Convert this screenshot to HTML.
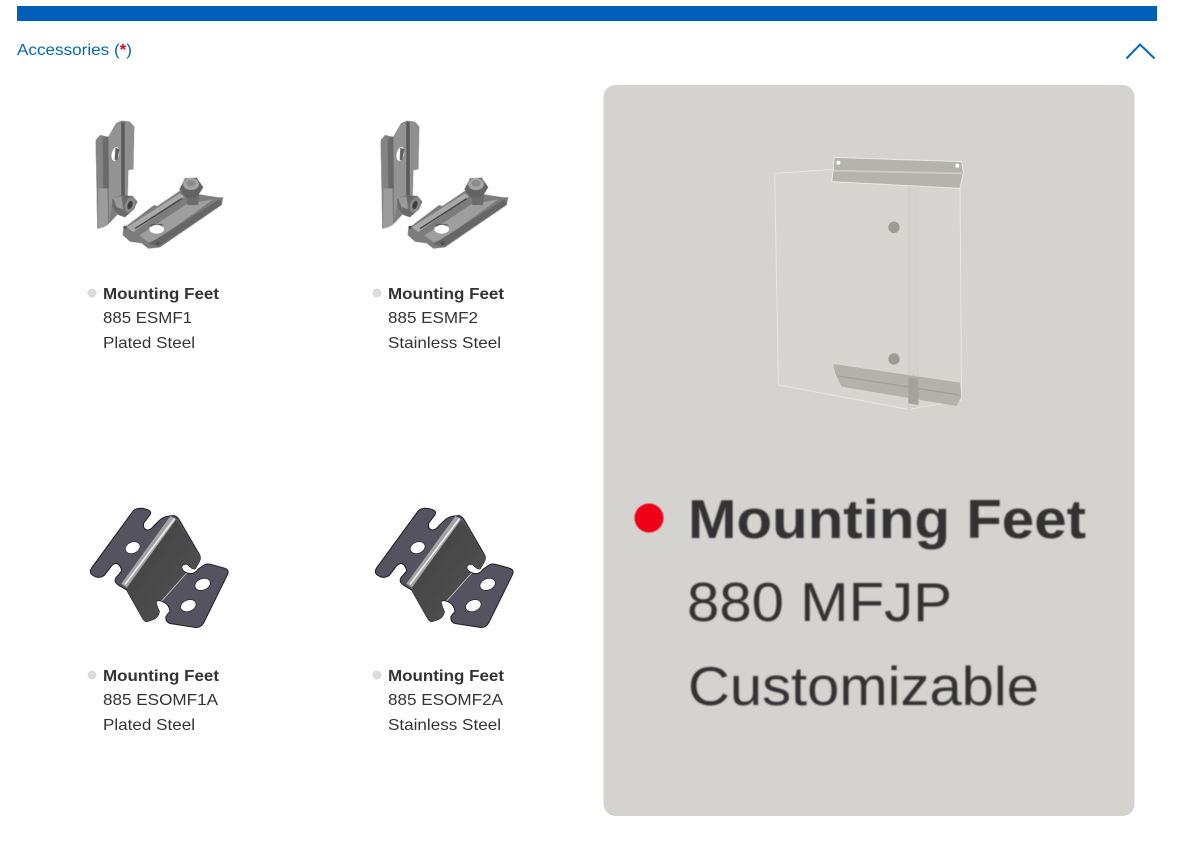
<!DOCTYPE html>
<html><head><meta charset="utf-8"><style>
html,body{margin:0;padding:0;background:#fff}
body{width:1199px;height:849px;overflow:hidden;position:relative}
svg{position:absolute;left:0;top:0}
text{font-family:"Liberation Sans",sans-serif;fill:#333;font-size:16px}
.b{font-weight:bold}
</style></head><body>
<svg width="1199" height="849" viewBox="0 0 1199 849" xmlns="http://www.w3.org/2000/svg">
<defs>
<filter id="bs" x="-5%" y="-5%" width="110%" height="110%"><feGaussianBlur stdDeviation="0.5"/></filter>
<filter id="bm" x="-5%" y="-5%" width="110%" height="110%"><feGaussianBlur stdDeviation="0.8"/></filter>
<linearGradient id="g2" x1="0" y1="0" x2="1" y2="1"><stop offset="0" stop-color="#3d3d3d"/><stop offset="1" stop-color="#565656"/></linearGradient>
<g id="f1" filter="url(#bs)">
 <path d="M108 40L125 32L150 35L163 50L160 178L145 180L143 262L125 300L88 340L70 352L52 356L47 90L60 75L85 80Z" fill="#7d7d7d"/>
 <path d="M47 90L60 76L68 88L70 350L52 356Z" fill="#848484"/>
 <path d="M55 235L82 235L84 345L68 352L55 355Z" fill="#9c9c9c"/>
 <path d="M68 88L85 80L88 235L70 235Z" fill="#6b6b6b"/>
 <path d="M85 80L110 42L124 38L124 262L98 268L88 340Z" fill="#939393"/>
 <path d="M124 38L134 36L134 258L124 262Z" fill="#585858"/>
 <path d="M134 36L150 35L163 50L160 178L145 180L143 258L134 258Z" fill="#8f8f8f"/>
 <ellipse cx="106" cy="132" rx="11" ry="21" fill="#fff" transform="rotate(12 106 132)"/>
 <path d="M106 113L118 118L112 150L104 150Z" fill="#5d5d5d"/>
 <path d="M97 268L125 255L158 258L172 275L162 298L135 322L115 315L97 290Z" fill="#6b6b6b"/>
 <path d="M100 266L124 258L130 298L110 292Z" fill="#9a9a9a"/>
 <ellipse cx="150" cy="285" rx="15" ry="24" fill="#888" transform="rotate(20 150 285)"/>
 <ellipse cx="150" cy="285" rx="7" ry="13" fill="#3c3c3c" transform="rotate(20 150 285)"/>
 <path d="M130 355L222 285L232 288L300 242L370 255L415 262L430 262L425 285L240 412L205 416L185 400L150 395L128 375Z" fill="#7c7c7c"/>
 <path d="M140 352L300 250L312 260L160 366Z" fill="#a9a9a9"/>
 <path d="M165 356L305 266" stroke="#3f3f3f" stroke-width="4" fill="none"/>
 <path d="M178 376L320 282L400 268L238 385L205 397Z" fill="#9e9e9e"/>
 <path d="M205 402L418 268L426 282L236 410Z" fill="#666"/>
 <ellipse cx="230" cy="357" rx="22" ry="14" fill="#fff"/>
 <path d="M210 352Q230 338 250 350L245 342L215 342Z" fill="#4f4f4f"/>
 <circle cx="135" cy="352" r="5" fill="#555"/><circle cx="233" cy="400" r="6" fill="#555"/>
 <path d="M320 250L357 250L354 285L322 285Z" fill="#6c6c6c"/>
 <path d="M298 238L315 205L350 203L370 232L352 260L318 263Z" fill="#646464"/>
 <ellipse cx="333" cy="222" rx="24" ry="18" fill="#a6a6a6"/>
 <ellipse cx="333" cy="220" rx="14" ry="10" fill="#8c8c8c"/>
</g>
<g id="f2" filter="url(#bs)">
 <path d="M160 47Q175 34 203 44Q218 50 208 62L192 83Q186 98 200 105Q212 106 222 92L243 72Q258 62 282 62Q292 65 298 75L358 178Q365 190 355 205L345 222Q335 222 325 210Q312 204 305 215Q306 232 330 236Q345 237 355 222L372 210Q380 205 392 208L435 220Q448 225 443 238L372 382Q362 400 345 397L272 386Q255 382 258 365Q262 357 270 350Q268 328 248 320Q232 312 228 322Q232 338 238 350Q235 368 218 374L200 380Q193 380 188 370L140 285L118 272Q100 262 108 248L125 228Q122 208 108 205Q95 207 88 222L72 242Q55 252 40 242Q26 234 34 220Z" fill="#55535e" stroke="#1f1f24" stroke-width="3" stroke-linejoin="round"/>
 <path d="M285 70L358 178Q365 190 355 205L345 222Q335 222 325 210Q312 204 305 215Q306 228 318 234L243 316Q232 312 228 322Q232 338 238 350Q235 368 218 374L200 380Q193 380 188 370L140 285Z" fill="url(#g2)"/>
 <path d="M320 234L245 318" stroke="#d8d8d8" stroke-width="2" fill="none"/>
 <path d="M132 272L280 68" stroke="#a4a4a4" stroke-width="20" fill="none"/>
 <path d="M135 268L284 70" stroke="#ececec" stroke-width="5" fill="none"/>
 <ellipse cx="158" cy="158" rx="23" ry="17" fill="#fff" stroke="#1f1f24" stroke-width="2" transform="rotate(-22 158 158)"/>
 <ellipse cx="368" cy="268" rx="24" ry="17" fill="#fff" stroke="#1f1f24" stroke-width="2" transform="rotate(-22 368 268)"/>
 <ellipse cx="325" cy="332" rx="24" ry="17" fill="#fff" stroke="#1f1f24" stroke-width="2" transform="rotate(-22 325 332)"/>
</g>
</defs>

<rect x="17" y="6" width="1140" height="15" fill="#0060b9"/>
<text x="17" y="55" style="fill:#0068b8" textLength="115" lengthAdjust="spacingAndGlyphs">Accessories (<tspan style="fill:#e8002a" font-weight="bold">*</tspan>)</text>
<path d="M1126.500 58.500L1140 44.500L1154.500 58.500" fill="none" stroke="#0068b8" stroke-width="2"/>

<use href="#f1" transform="translate(80 110) scale(.3333)"/>
<use href="#f1" transform="translate(365 110) scale(.3333)"/>
<use href="#f2" transform="translate(80 495) scale(.3333)"/>
<use href="#f2" transform="translate(365 495) scale(.3333)"/>

<g>
 <circle cx="92" cy="293" r="4.500" fill="#dcdcdc"/>
 <text x="103" y="299" class="b" textLength="116" lengthAdjust="spacingAndGlyphs">Mounting Feet</text>
 <text x="103" y="323" textLength="89" lengthAdjust="spacingAndGlyphs">885 ESMF1</text>
 <text x="103" y="348" textLength="92" lengthAdjust="spacingAndGlyphs">Plated Steel</text>
 <circle cx="377" cy="293" r="4.500" fill="#dcdcdc"/>
 <text x="388" y="299" class="b" textLength="116" lengthAdjust="spacingAndGlyphs">Mounting Feet</text>
 <text x="388" y="323" textLength="90" lengthAdjust="spacingAndGlyphs">885 ESMF2</text>
 <text x="388" y="348" textLength="113" lengthAdjust="spacingAndGlyphs">Stainless Steel</text>
 <circle cx="92" cy="675" r="4.500" fill="#dcdcdc"/>
 <text x="103" y="681" class="b" textLength="116" lengthAdjust="spacingAndGlyphs">Mounting Feet</text>
 <text x="103" y="705" textLength="115" lengthAdjust="spacingAndGlyphs">885 ESOMF1A</text>
 <text x="103" y="730" textLength="92" lengthAdjust="spacingAndGlyphs">Plated Steel</text>
 <circle cx="377" cy="675" r="4.500" fill="#dcdcdc"/>
 <text x="388" y="681" class="b" textLength="116" lengthAdjust="spacingAndGlyphs">Mounting Feet</text>
 <text x="388" y="705" textLength="115" lengthAdjust="spacingAndGlyphs">885 ESOMF2A</text>
 <text x="388" y="730" textLength="113" lengthAdjust="spacingAndGlyphs">Stainless Steel</text>
</g>

<rect x="603.500" y="85" width="531" height="731" rx="12" fill="#d4d3cf"/>
<g transform="translate(760 140) scale(.3333)" filter="url(#bs)">
 <path d="M44 100L220 88L600 125L605 780L445 808L55 735Z" fill="#d6d5d1" stroke="#e6e6e3" stroke-width="3"/>
 <path d="M445 130L475 132L475 798L445 808Z" fill="#d3d2ce" stroke="#cdccc8" stroke-width="2"/>
 <path d="M222 52L605 65L610 98L600 145L215 125L220 90Z" fill="#b4b3ae" stroke="#e8e8e5" stroke-width="3"/>
 <path d="M222 92L605 100" stroke="#cbcac5" stroke-width="6" fill="none"/>
 <path d="M220 672L600 728L604 770L590 798L245 740L225 700Z" fill="#b2b1ac"/>
 <path d="M235 708L598 765" stroke="#a09f9a" stroke-width="4" fill="none"/>
 <path d="M445 712L475 716L475 795L445 790Z" fill="#a3a29d"/>
 <circle cx="402" cy="262" r="17" fill="#9c9b95"/>
 <circle cx="402" cy="657" r="17" fill="#9c9b95"/>
 <circle cx="235" cy="68" r="6" fill="#fff"/>
 <circle cx="592" cy="77" r="6" fill="#fff"/>
</g>
<circle cx="649" cy="518" r="14.500" fill="#f00016" filter="url(#bs)"/>
<g filter="url(#bm)">
 <text x="688" y="538" class="b" style="font-size:55px" textLength="398" lengthAdjust="spacingAndGlyphs">Mounting Feet</text>
 <text x="687" y="621" style="font-size:55px" textLength="265" lengthAdjust="spacingAndGlyphs">880 MFJP</text>
 <text x="688" y="705" style="font-size:55px" textLength="351" lengthAdjust="spacingAndGlyphs">Customizable</text>
</g>
</svg>
</body></html>
